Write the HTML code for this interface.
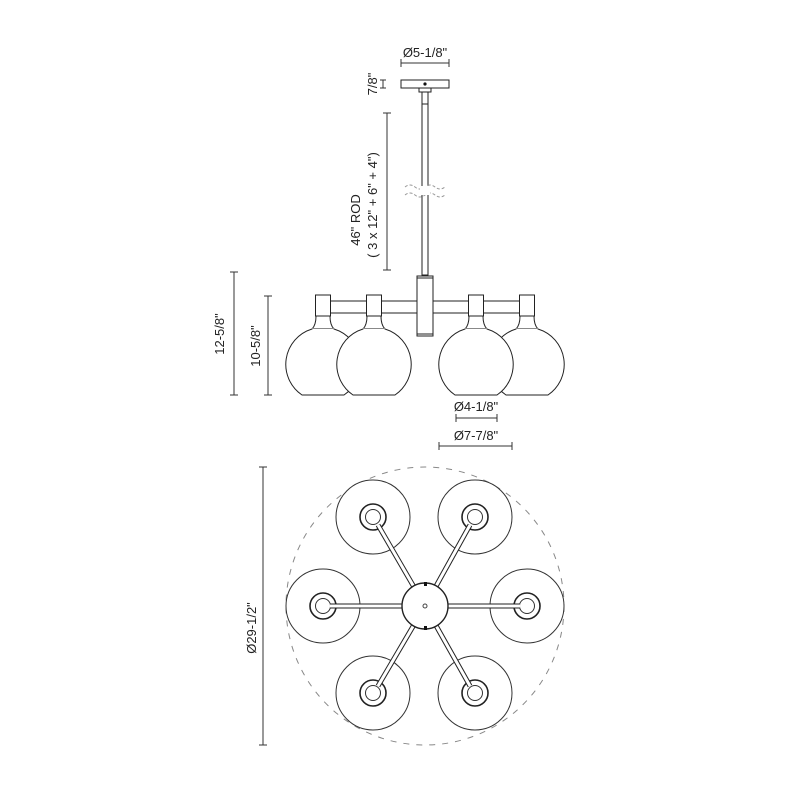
<!DOCTYPE html>
<html><head><meta charset="utf-8"><style>
html,body{margin:0;padding:0;background:#fff}
svg{display:block}
text{font-family:"Liberation Sans",sans-serif;font-size:13px;fill:#222}
</style></head><body>
<svg width="800" height="800" viewBox="0 0 800 800" xmlns="http://www.w3.org/2000/svg">
<defs>
<g id="globe">
<path d="M-7 316 C-7 323 -9 327 -11 329 A37 37 0 0 0 -21 395 L21 395 A37 37 0 0 0 11 329 C9 327 7 323 7 316 Z" fill="#fff" stroke="#222" stroke-width="1"/>
<line x1="-11" y1="328.5" x2="11" y2="328.5" stroke="#888" stroke-width="1"/>
<rect x="-7.5" y="295" width="15" height="21" fill="#fff" stroke="#222" stroke-width="1"/>
</g>
<g id="bshade">
<circle r="37" fill="#fff" stroke="#333" stroke-width="1"/>
<circle r="13" fill="#fff" stroke="#222" stroke-width="1.6"/>
<circle r="7.5" fill="#fff" stroke="#333" stroke-width="1"/>
</g>
</defs>
<g fill="none" stroke="#333" stroke-width="1">
<line x1="401" y1="63" x2="449" y2="63"/><line x1="401" y1="59" x2="401" y2="67"/><line x1="449" y1="59" x2="449" y2="67"/>
<line x1="383" y1="80" x2="383" y2="88"/><line x1="380" y1="80" x2="386" y2="80"/><line x1="380" y1="88" x2="386" y2="88"/>
<line x1="387" y1="113" x2="387" y2="270"/><line x1="383" y1="113" x2="391" y2="113"/><line x1="383" y1="270" x2="391" y2="270"/>
<line x1="234" y1="272" x2="234" y2="395"/><line x1="230" y1="272" x2="238" y2="272"/><line x1="230" y1="395" x2="238" y2="395"/>
<line x1="268" y1="296" x2="268" y2="395"/><line x1="264" y1="296" x2="272" y2="296"/><line x1="264" y1="395" x2="272" y2="395"/>
<line x1="456" y1="418" x2="497" y2="418"/><line x1="456" y1="414" x2="456" y2="422"/><line x1="497" y1="414" x2="497" y2="422"/>
<line x1="439" y1="446" x2="512" y2="446"/><line x1="439" y1="442" x2="439" y2="450"/><line x1="512" y1="442" x2="512" y2="450"/>
<line x1="263" y1="467" x2="263" y2="745"/><line x1="259" y1="467" x2="267" y2="467"/><line x1="259" y1="745" x2="267" y2="745"/>
</g>
<rect x="401" y="80" width="48" height="8" fill="#fff" stroke="#222"/>
<circle cx="425" cy="84" r="1.6" fill="#111"/>
<rect x="419" y="88" width="12" height="4" fill="#fff" stroke="#222"/>
<rect x="422" y="92" width="6" height="183" fill="#fff" stroke="#222"/>
<line x1="422" y1="104" x2="428" y2="104" stroke="#222"/>
<path d="M405 187 q5 -4 10 0 t10 0 t10 0 t10 0 M405 195 q5 -4 10 0 t10 0 t10 0 t10 0" fill="none" stroke="#999" stroke-dasharray="3,2"/>
<rect x="420" y="186" width="10" height="9" fill="#fff"/>
<rect x="323" y="301" width="94" height="12" fill="#fff" stroke="#222"/>
<rect x="433" y="301" width="94" height="12" fill="#fff" stroke="#222"/>
<use href="#globe" x="323"/>
<use href="#globe" x="374"/>
<use href="#globe" x="527"/>
<use href="#globe" x="476"/>
<rect x="417" y="276" width="16" height="60" fill="#fff" stroke="#222"/>
<line x1="417" y1="278" x2="433" y2="278" stroke="#222"/>
<line x1="417" y1="334" x2="433" y2="334" stroke="#222"/>
<circle cx="425" cy="606" r="139" fill="none" stroke="#888" stroke-dasharray="6,7"/>
<use href="#bshade" x="373" y="517"/>
<use href="#bshade" x="475" y="517"/>
<use href="#bshade" x="323" y="606"/>
<use href="#bshade" x="527" y="606"/>
<use href="#bshade" x="373" y="693"/>
<use href="#bshade" x="475" y="693"/>
<g stroke="#222" stroke-width="5">
<line x1="425" y1="606" x2="378" y2="525"/><line x1="425" y1="606" x2="470" y2="525"/>
<line x1="425" y1="606" x2="330" y2="606"/><line x1="425" y1="606" x2="520" y2="606"/>
<line x1="425" y1="606" x2="378" y2="686"/><line x1="425" y1="606" x2="470" y2="686"/>
</g>
<g stroke="#fff" stroke-width="3">
<line x1="425" y1="606" x2="378" y2="525"/><line x1="425" y1="606" x2="470" y2="525"/>
<line x1="425" y1="606" x2="330" y2="606"/><line x1="425" y1="606" x2="520" y2="606"/>
<line x1="425" y1="606" x2="378" y2="686"/><line x1="425" y1="606" x2="470" y2="686"/>
</g>
<circle cx="425" cy="606" r="23" fill="#fff" stroke="#222" stroke-width="1.4"/>
<circle cx="425" cy="606" r="2" fill="#fff" stroke="#444"/>
<rect x="424" y="582" width="3" height="4" fill="#111"/>
<rect x="424" y="626" width="3" height="4" fill="#111"/>
<text x="425" y="57" text-anchor="middle">Ø5-1/8"</text>
<text transform="translate(377,84) rotate(-90)" text-anchor="middle">7/8"</text>
<text transform="translate(360,220) rotate(-90)" text-anchor="middle">46" ROD</text>
<text transform="translate(377,205) rotate(-90)" text-anchor="middle">( 3 x 12" + 6" + 4")</text>
<text transform="translate(224,334) rotate(-90)" text-anchor="middle">12-5/8"</text>
<text transform="translate(260,346) rotate(-90)" text-anchor="middle">10-5/8"</text>
<text x="476" y="411" text-anchor="middle">Ø4-1/8"</text>
<text x="476" y="440" text-anchor="middle">Ø7-7/8"</text>
<text transform="translate(256,628) rotate(-90)" text-anchor="middle">Ø29-1/2"</text>
</svg>
</body></html>
